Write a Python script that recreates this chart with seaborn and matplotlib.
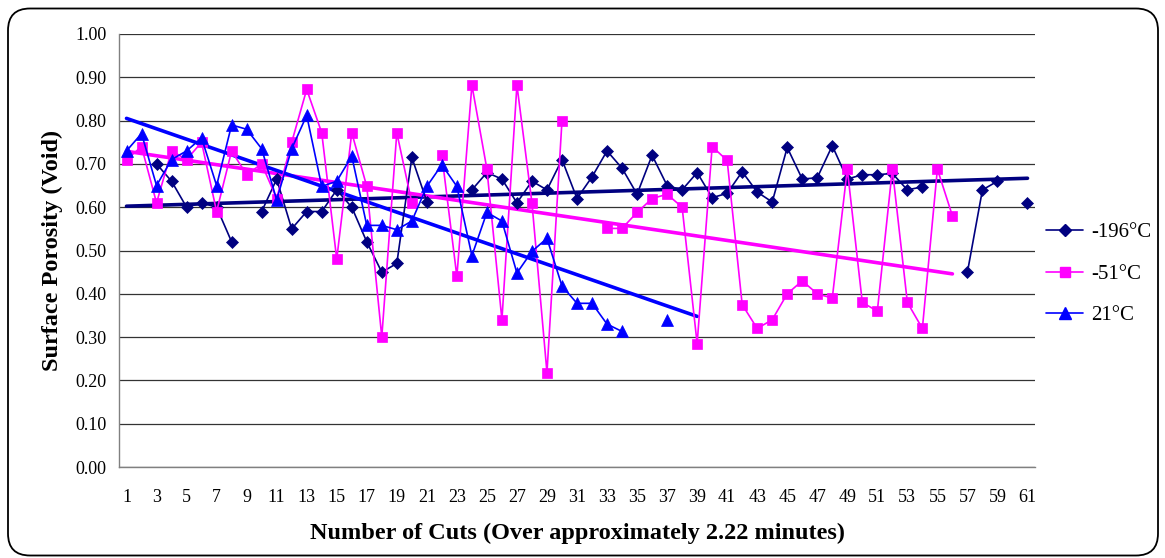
import numpy as np
import pandas as pd
import matplotlib
matplotlib.use("Agg")
import matplotlib.pyplot as plt
from matplotlib.lines import Line2D
from matplotlib.patches import FancyBboxPatch
import seaborn as sns

# Surface porosity per cut; None marks a cut with no reading
porosity_m196 = [None, None, 0.70, 0.66, 0.60, 0.61, 0.60, 0.52, None, 0.59,
                 0.665, 0.55, 0.59, 0.59, 0.64, 0.60, 0.52, 0.45, 0.47, 0.715,
                 0.613, None, None, 0.64, 0.68, 0.665, 0.61, 0.66, 0.64, 0.71,
                 0.62, 0.67, 0.73, 0.69, 0.63, 0.72, 0.65, 0.64, 0.68, 0.622,
                 0.632, 0.682, 0.635, 0.612, 0.738, 0.665, 0.668, 0.742, 0.665, 0.675,
                 0.675, 0.678, 0.64, 0.647, None, None, 0.45, 0.64, 0.66, None,
                 0.61]
porosity_m51 = [0.71, 0.74, 0.61, 0.73, 0.71, 0.75, 0.59, 0.73, 0.675, 0.70,
                0.62, 0.75, 0.872, 0.772, 0.48, 0.772, 0.648, 0.30, 0.772, 0.61,
                None, 0.72, 0.44, 0.882, 0.688, 0.34, 0.882, 0.61, 0.218, 0.80,
                None, None, 0.551, 0.551, 0.588, 0.62, 0.63, 0.60, 0.285, 0.74,
                0.708, 0.375, 0.32, 0.34, 0.40, 0.43, 0.40, 0.39, 0.688, 0.38,
                0.36, 0.688, 0.38, 0.32, 0.688, 0.58]
porosity_21 = [0.73, 0.77, 0.65, 0.71, 0.73, 0.76, 0.65, 0.79, 0.78, 0.735,
               0.617, 0.735, 0.812, 0.648, 0.66, 0.718, 0.558, 0.558, 0.548, 0.568,
               0.648, 0.698, 0.648, 0.488, 0.588, 0.568, 0.448, 0.498, 0.528, 0.418,
               0.378, 0.378, 0.33, 0.313, None, None, 0.34, None, None]

series_labels = ["-196°C", "-51°C", "21°C"]
series_values = [porosity_m196, porosity_m51, porosity_21]
series_colors = ["#000080", "#FF00FF", "#0000FF"]
series_markers = ["D", "s", "^"]
marker_sizes = [6.5, 6.5, 8]

y_ticks = np.round(np.arange(0, 1.001, 0.1), 2)
x_tick_labels = list(range(1, 62, 2))

sns.set_theme(style="white")
plt.rcParams["font.family"] = ["Liberation Serif", "DejaVu Serif"]
plt.rcParams["text.color"] = "black"
plt.rcParams["axes.labelcolor"] = "black"

fig = plt.figure(figsize=(11.65, 5.58), dpi=100)
ax = fig.add_axes([119 / 1165, 1 - 467 / 558, 916 / 1165, 433 / 558])

for label, vals, color, marker, ms in zip(series_labels, series_values,
                                          series_colors, series_markers, marker_sizes):
    df = pd.DataFrame({"cut": np.arange(1, len(vals) + 1),
                       "porosity": pd.array(vals, dtype="float")})
    # contiguous runs of readings are joined; gaps break the line
    df["run"] = df["porosity"].isna().cumsum()
    valid = df.dropna()
    sns.lineplot(data=valid, x="cut", y="porosity", units="run", estimator=None,
                 color=color, marker=marker, markersize=ms, markeredgecolor=color,
                 markeredgewidth=0.5, linewidth=1.2, ax=ax, legend=False, zorder=3)
    # linear trend across the full cut range of the series
    slope, intercept = np.polyfit(valid["cut"], valid["porosity"], 1)
    trend_x = np.array([1, len(vals)])
    sns.lineplot(x=trend_x, y=slope * trend_x + intercept, color=color,
                 linewidth=2.6, ax=ax, legend=False, zorder=2)

ax.set_xlim(0.5, 61.5)
ax.set_ylim(0, 1.0)
ax.set_yticks(y_ticks)
ax.set_yticklabels([f"{v:.2f}" for v in y_ticks])
ax.set_xticks(x_tick_labels)
ax.set_xticklabels([str(v) for v in x_tick_labels])
ax.set_xticks(np.arange(0.5, 62, 1.0), minor=True)
ax.grid(axis="y", color="#333333", linewidth=0.9)
ax.grid(axis="x", visible=False)

for side in ["top", "right"]:
    ax.spines[side].set_visible(False)
for side in ["left", "bottom"]:
    ax.spines[side].set_color("#808080")
    ax.spines[side].set_linewidth(1.0)

ax.tick_params(axis="x", which="major", length=0, pad=16, labelsize=13, colors="black")
ax.tick_params(axis="x", which="minor", length=4, width=0.8, color="#808080", direction="out")
ax.tick_params(axis="y", which="major", length=5, width=0.8, color="#808080",
               direction="out", pad=4, labelsize=13, labelcolor="black")

ax.set_xlabel("Number of Cuts (Over approximately 2.22 minutes)", fontsize=17.5,
              fontweight="bold", labelpad=12)
ax.set_ylabel("Surface Porosity (Void)", fontsize=17.5, fontweight="bold", labelpad=9)

handles = [Line2D([0], [0], color=c, marker=m, markersize=ms, linewidth=1.2,
                  markeredgecolor=c) for c, m, ms in zip(series_colors, series_markers, marker_sizes)]
fig.legend(handles, series_labels, loc="center left", bbox_to_anchor=(1027 / 1165, 1 - 274 / 558),
           frameon=False, fontsize=15, handlelength=1.8, handletextpad=0.4, labelspacing=1.05)

border = FancyBboxPatch((0.08, 0.025), 11.5, 5.47, boxstyle="round,pad=0,rounding_size=0.22",
                        transform=fig.dpi_scale_trans, fill=False, edgecolor="black",
                        linewidth=1.3, zorder=0)
fig.patches.append(border)

fig.savefig("out.png", dpi=100)
